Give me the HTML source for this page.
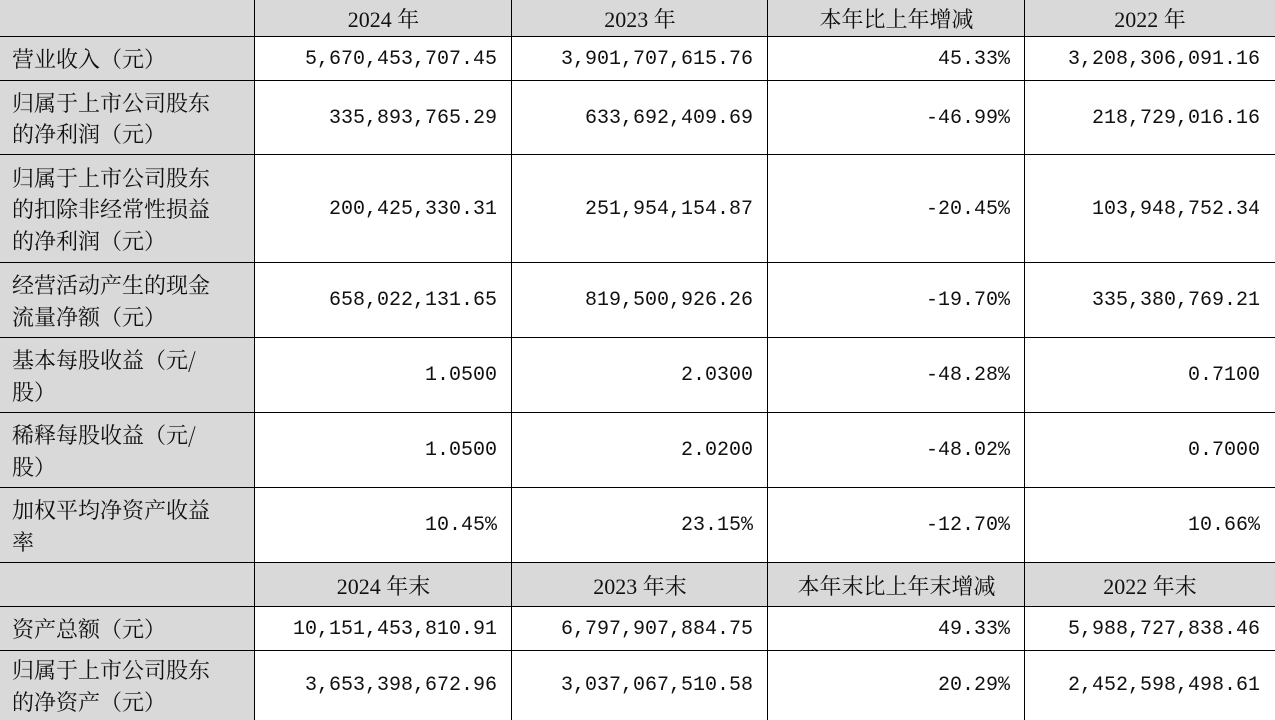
<!DOCTYPE html>
<html><head><meta charset="utf-8"><style>
body{margin:0;background:#fff;width:1275px;height:720px;overflow:hidden;position:relative}
.c{position:absolute;box-sizing:border-box;display:flex;align-items:center;color:#111}
.g{background:#d9d9d9}
.l{padding-left:12px;line-height:31.5px;font-family:"Noto Serif CJK SC",serif;font-size:22px}
.h{justify-content:center;font-family:"Liberation Serif","Noto Serif CJK SC",serif;font-size:22px}
.n{justify-content:flex-end;padding-right:15px;font-family:"Liberation Mono",monospace;font-size:20px}
.vl{position:absolute;top:0;height:720px;width:1px;background:#000}
.hl{position:absolute;left:0;width:1275px;height:1px;background:#000}
</style></head><body>
<div id="t"></div>
<script>
var xs=[0,255,512,768,1025,1275];
var ys=[0,37,81,155,263,338,413,488,563,607,651,720];
var rows=[
["g","","2024 年","2023 年","本年比上年增减","2022 年"],
["","营业收入（元）","5,670,453,707.45","3,901,707,615.76","45.33%","3,208,306,091.16"],
["","归属于上市公司股东<br>的净利润（元）","335,893,765.29","633,692,409.69","-46.99%","218,729,016.16"],
["","归属于上市公司股东<br>的扣除非经常性损益<br>的净利润（元）","200,425,330.31","251,954,154.87","-20.45%","103,948,752.34"],
["","经营活动产生的现金<br>流量净额（元）","658,022,131.65","819,500,926.26","-19.70%","335,380,769.21"],
["","基本每股收益（元/<br>股）","1.0500","2.0300","-48.28%","0.7100"],
["","稀释每股收益（元/<br>股）","1.0500","2.0200","-48.02%","0.7000"],
["","加权平均净资产收益<br>率","10.45%","23.15%","-12.70%","10.66%"],
["g","","2024 年末","2023 年末","本年末比上年末增减","2022 年末"],
["","资产总额（元）","10,151,453,810.91","6,797,907,884.75","49.33%","5,988,727,838.46"],
["","归属于上市公司股东<br>的净资产（元）","3,653,398,672.96","3,037,067,510.58","20.29%","2,452,598,498.61"]];
var h="";
rows.forEach(function(r,i){
 for(var j=0;j<5;j++){
  var cls="c ";
  if(j==0)cls+="g l";else if(r[0]=="g")cls+="g h";else cls+="n";
  h+='<div class="'+cls+'" style="left:'+xs[j]+'px;top:'+ys[i]+'px;width:'+(xs[j+1]-xs[j])+'px;height:'+(ys[i+1]-ys[i])+'px"><div>'+r[j+1]+'</div></div>';
 }
});
[255,512,768,1025].forEach(function(x){h+='<div class="vl" style="left:'+(x-1)+'px"></div>'});
ys.slice(1,-1).forEach(function(y){h+='<div class="hl" style="top:'+(y-1)+'px"></div>'});
document.getElementById("t").innerHTML=h;
</script>
</body></html>
